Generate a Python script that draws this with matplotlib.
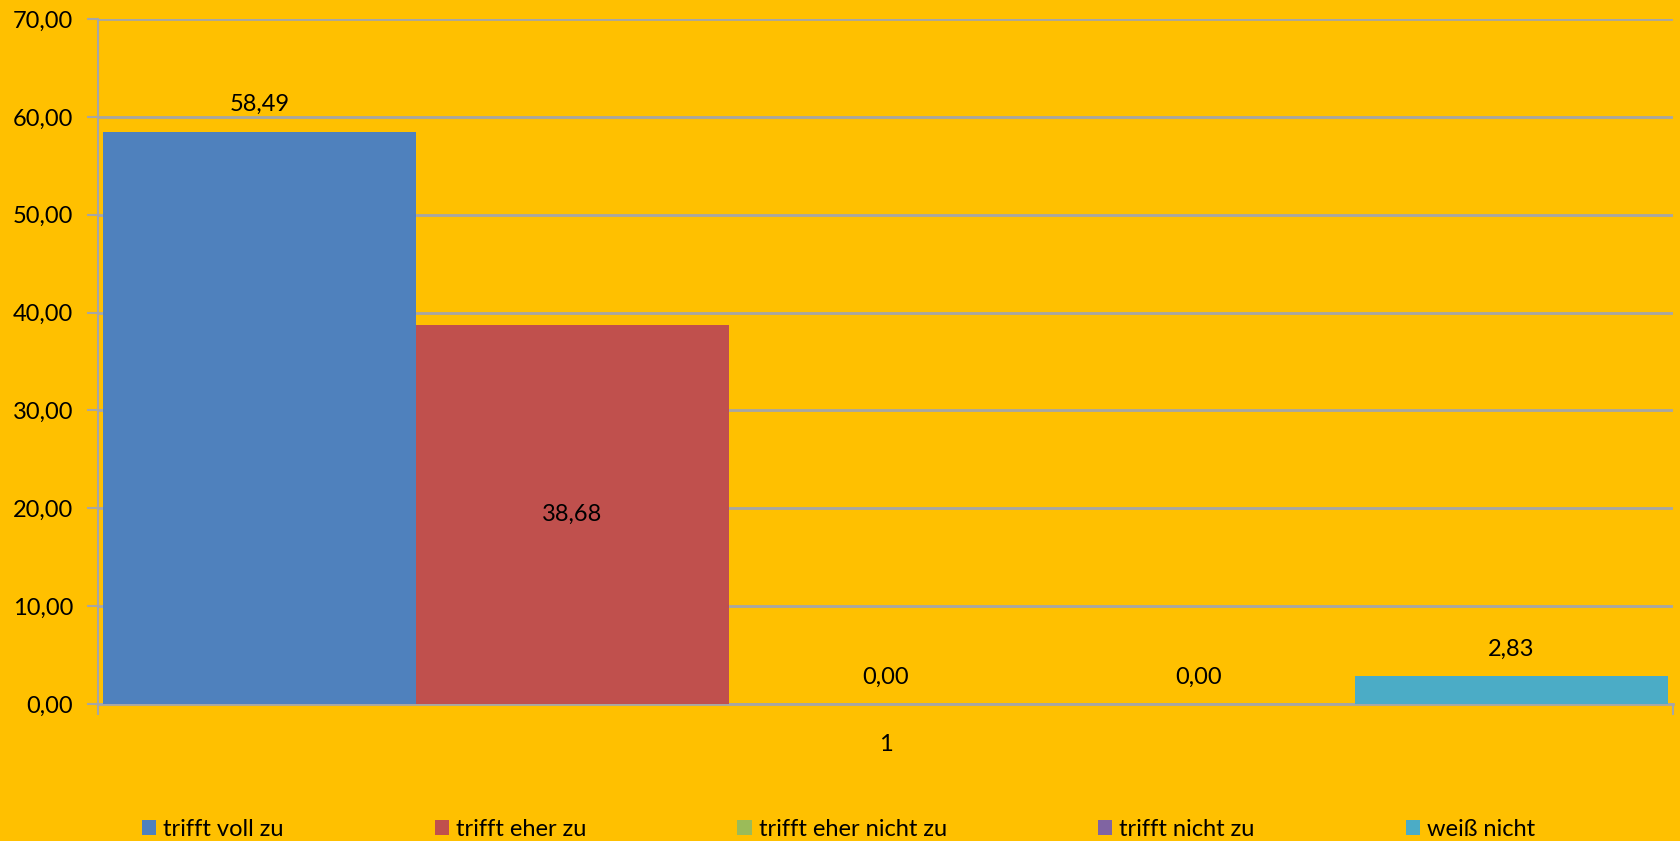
import matplotlib.pyplot as plt
from matplotlib.transforms import blended_transform_factory, offset_copy

# data
categories = ["trifft voll zu", "trifft eher zu", "trifft eher nicht zu", "trifft nicht zu", "weiß nicht"]
values = [58.49, 38.68, 0.00, 0.00, 2.83]
colors = ["#4F81BD", "#C0504D", "#9BBB59", "#8064A2", "#4BACC6"]
group_label = "1"
yticks = [0, 10, 20, 30, 40, 50, 60, 70]

plt.rcParams['font.family'] = ['Lato', 'DejaVu Sans']
bg = "#FFC000"
grid = "#A6A6A6"
fs = 17

fig = plt.figure(figsize=(16.81, 8.41), dpi=100, facecolor=bg)
ax = fig.add_axes([98 / 1681, 137 / 841, 1575 / 1681, 685 / 841])
ax.set_facecolor(bg)

x = list(range(len(values)))
bars = ax.bar(x, values, width=1.0, color=colors, label=categories, linewidth=0, zorder=3)
ax.set_xlim(-0.516, 4.516)
ax.set_ylim(0, 70)

ax.set_yticks(yticks)
ax.set_yticklabels([f"{v:.2f}".replace(".", ",") for v in yticks], fontsize=fs)
ax.yaxis.grid(True, color=grid, linewidth=2, zorder=0)
ax.tick_params(axis='y', length=8, width=1.5, color=grid, pad=10)
ax.set_xticks([-0.516, 4.516])
ax.set_xticklabels(["", ""])
ax.tick_params(axis='x', length=8, width=1.5, color=grid)

for s in ["top", "right"]:
    ax.spines[s].set_visible(False)
ax.spines["left"].set_color(grid)
ax.spines["left"].set_linewidth(1.5)
ax.spines["bottom"].set_color(grid)
ax.spines["bottom"].set_linewidth(2)

# value labels
for i, (b, v) in enumerate(zip(bars, values)):
    txt = f"{v:.2f}".replace(".", ",")
    cx = b.get_x() + b.get_width() / 2
    if i == 1:
        ax.text(cx, v / 2, txt, ha='center', va='center', fontsize=fs, zorder=4)
    else:
        ax.annotate(txt, (cx, v), xytext=(0, 19.5), textcoords='offset points',
                    ha='center', va='center', fontsize=fs, zorder=4)

trans = blended_transform_factory(ax.transAxes, ax.transAxes)
ax.text(0.5, 0, group_label, transform=offset_copy(trans, fig=fig, x=0, y=-29, units='points'),
        ha='center', va='center', fontsize=fs)

fig.legend(handles=bars, labels=categories, loc='center', bbox_to_anchor=(0.4988, 12 / 841),
           ncol=5, frameon=False, fontsize=fs, handlelength=0.6, handleheight=0.6,
           handletextpad=0.3, columnspacing=6.4)

fig.savefig("out.png", dpi=100, facecolor=bg)
